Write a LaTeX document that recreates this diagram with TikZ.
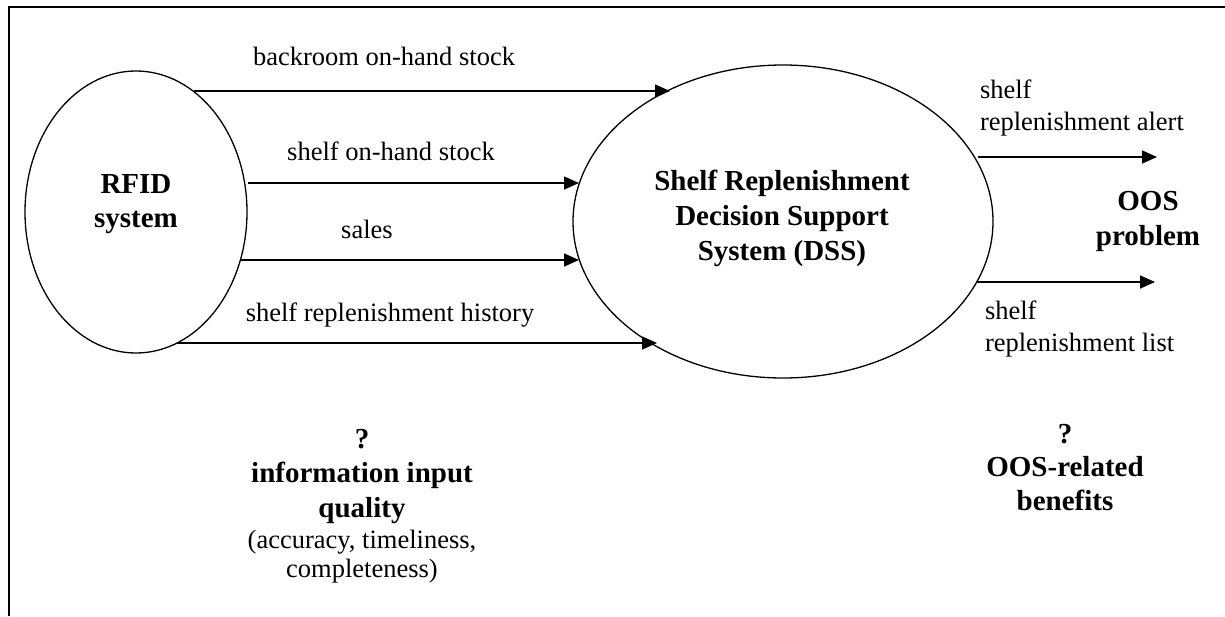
\documentclass[tikz,border=0pt]{standalone}
\usepackage{fontspec}
\setmainfont{Liberation Serif}
\usetikzlibrary{shapes.geometric,arrows.meta}
\begin{document}
\begin{tikzpicture}[x=1pt,y=-1pt,
  every node/.style={inner sep=0pt,outer sep=0pt},
  txt/.style={font=\fontsize{26.5}{32}\selectfont,anchor=base,align=center},
  btxt/.style={font=\fontsize{29}{34.5}\selectfont\bfseries,anchor=base,align=center},
  ltxt/.style={font=\fontsize{26.5}{32}\selectfont,anchor=base west,align=left},
  oval/.style={draw,ellipse,line width=1.3pt},
  arr/.style={line width=1.6pt,-{Triangle[length=15pt,width=13pt]}}]
\useasboundingbox (0,0) rectangle (1225,616);
\draw[line width=1.8pt] (9,616) -- (9,7) -- (1225,7);
% ellipses
\node[oval,minimum width=222pt,minimum height=282pt] (rfid) at (136,212) {};
\node[oval,minimum width=420pt,minimum height=313pt] (dss) at (783,221.5) {};
\node[btxt,font=\fontsize{29}{34}\selectfont\bfseries] (rfidtxt) at (136,227) {RFID\\system};
\node[btxt,font=\fontsize{29}{35}\selectfont\bfseries] (dsstxt) at (782,260) {Shelf Replenishment\\Decision Support\\System (DSS)};
% connector end points
\coordinate (a1) at (194,91);   \coordinate (a2) at (670,91);
\coordinate (b1) at (248,183);  \coordinate (b2) at (579,183);
\coordinate (c1) at (240,260);  \coordinate (c2) at (579,260);
\coordinate (d1) at (177,343);  \coordinate (d2) at (657,343);
\coordinate (e1) at (978,157);  \coordinate (e2) at (1157,157);
\coordinate (f1) at (976,282);  \coordinate (f2) at (1155,282);
\draw[arr] (a1) -- (a2);
\draw[arr] (b1) -- (b2);
\draw[arr] (c1) -- (c2);
\draw[arr] (d1) -- (d2);
\draw[arr] (e1) -- (e2);
\draw[arr] (f1) -- (f2);
% labels
\node[txt] (la) at (384,65) {backroom on-hand stock};
\node[txt] (lb) at (391,160) {shelf on-hand stock};
\node[txt] (lc) at (367,238) {sales};
\node[txt] (ld) at (390,321) {shelf replenishment history};
\node[ltxt] (le) at (980,130) {shelf\\replenishment alert};
\node[ltxt] (lf) at (985,351) {shelf\\replenishment list};
\node[btxt,font=\fontsize{29}{35}\selectfont\bfseries] (oos) at (1148,245) {OOS\\problem};
\node[btxt] (q1) at (362,517) {?\\information input\\quality};
\node[txt,font=\fontsize{26.5}{29}\selectfont] (q2) at (362,577) {(accuracy, timeliness,\\completeness)};
\node[btxt,font=\fontsize{29}{33.5}\selectfont\bfseries] (q3) at (1065,510) {?\\OOS-related\\benefits};
\end{tikzpicture}
\end{document}
